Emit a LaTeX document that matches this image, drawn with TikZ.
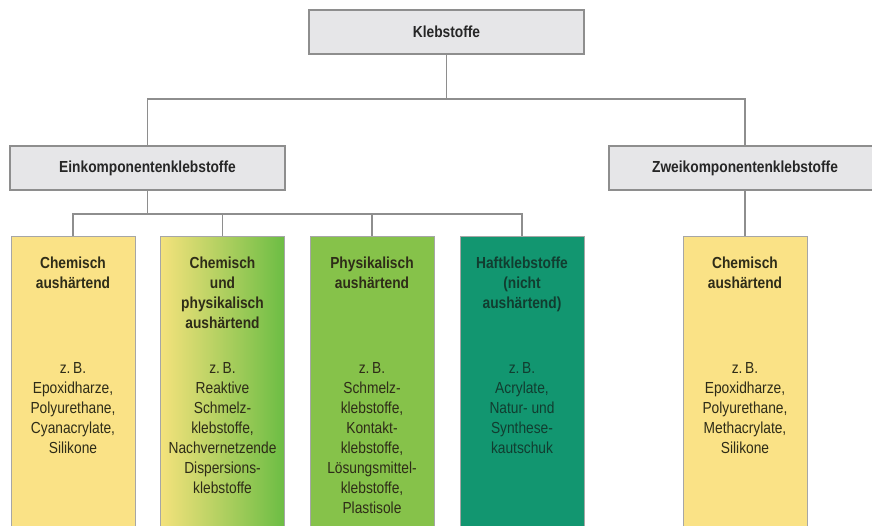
\documentclass[tikz,border=0pt]{standalone}
\usepackage{fontspec}
\setmainfont{Liberation Sans}[FakeStretch=0.86]
\usepackage{tikz}
\usetikzlibrary{positioning}
\usepackage{xcolor}

\definecolor{boxgray}{HTML}{E6E6E8}
\definecolor{linegray}{HTML}{8E8E8E}
\definecolor{gelb}{HTML}{FAE286}
\definecolor{gruenhell}{HTML}{86C24A}
\definecolor{gruenverl}{HTML}{6CBD44}
\definecolor{gelbverl}{HTML}{F4E27C}
\definecolor{petrol}{HTML}{129670}
\definecolor{textdunkel}{HTML}{2E2C18}
\definecolor{textpetrol}{HTML}{113D30}

\begin{document}
\begin{tikzpicture}[x=1pt,y=-1pt,
  conn/.style={draw=linegray,line width=1.6pt},
  graybox/.style={draw=linegray,line width=1.4pt,fill=boxgray,minimum width=275pt,minimum height=44pt,inner sep=0pt,font=\fontsize{16}{20}\selectfont\bfseries,text=black!85},
  colbox/.style={draw=black!35,line width=0.8pt,anchor=north,minimum width=124pt,minimum height=300pt,inner sep=0pt},
  head/.style={anchor=north,align=center,inner sep=0pt,font=\fontsize{16}{20}\selectfont\bfseries,text=textdunkel},
  body/.style={anchor=north,align=center,inner sep=0pt,font=\fontsize{16}{20}\selectfont,text=textdunkel}]

\useasboundingbox (0,0) rectangle (872,526);
\clip (0,0) rectangle (872,526);

% --- oberste Ebenen ---
\node[graybox] (kleb) at (446.5,32) {Klebstoffe};
\node[graybox] (ek) at (147.5,168) {Einkomponentenklebstoffe};
\node[graybox,minimum width=272pt] (zk) at (745,168) {Zweikomponentenklebstoffe};

\coordinate (bus1) at (446.5,99);
\coordinate (bus2) at (147.5,214);

% --- Spalten ---
\node[colbox,fill=gelb] (c1) at (73,236) {};
\node[colbox,left color=gelbverl,right color=gruenverl] (c2) at (222.5,236) {};
\node[colbox,fill=gruenhell] (c3) at (372,236) {};
\node[colbox,fill=petrol] (c4) at (522,236) {};
\node[colbox,fill=gelb] (c5) at (745,236) {};

% --- Verbindungen ---
\draw[conn] (kleb) -- (bus1);
\draw[conn] (ek.north) |- (bus1) -| (zk.north);
\draw[conn] (ek) -- (bus2);
\draw[conn] (c1.north) |- (bus2) -| (c4.north);
\draw[conn] (c2.north) -- (c2.north |- bus2);
\draw[conn] (c3.north) -- (c3.north |- bus2);
\draw[conn] (zk) -- (c5);

% --- Texte ---
\node[head] (c1h) at (73,257) {Chemisch\\aushärtend};
\node[body] (c1b) at (73,362) {z.\,B.\\Epoxidharze,\\Polyurethane,\\Cyanacrylate,\\Silikone};

\node[head] (c2h) at (222.5,257) {Chemisch\\und\\physikalisch\\aushärtend};
\node[body] (c2b) at (222.5,362) {z.\,B.\\Reaktive\\Schmelz-\\klebstoffe,\\Nachvernetzende\\Dispersions-\\klebstoffe};

\node[head] (c3h) at (372,257) {Physikalisch\\aushärtend};
\node[body] (c3b) at (372,362) {z.\,B.\\Schmelz-\\klebstoffe,\\Kontakt-\\klebstoffe,\\Lösungsmittel-\\klebstoffe,\\Plastisole};

\node[head,text=textpetrol] (c4h) at (522,257) {Haftklebstoffe\\(nicht\\aushärtend)};
\node[body,text=textpetrol] (c4b) at (522,362) {z.\,B.\\Acrylate,\\Natur- und\\Synthese-\\kautschuk};

\node[head] (c5h) at (745,257) {Chemisch\\aushärtend};
\node[body] (c5b) at (745,362) {z.\,B.\\Epoxidharze,\\Polyurethane,\\Methacrylate,\\Silikone};

\end{tikzpicture}
\end{document}
